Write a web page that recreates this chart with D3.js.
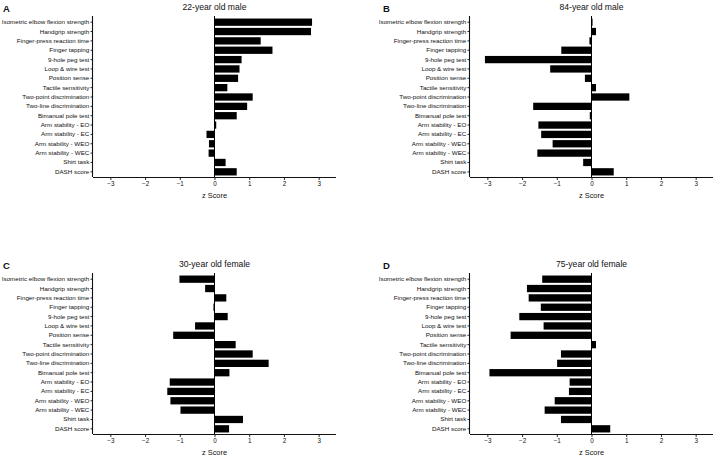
<!DOCTYPE html>
<html>
<head>
<meta charset="utf-8">
<script src="https://cdn.jsdelivr.net/npm/d3@7"></script>
<style>
  body { margin: 0; background: #fff; }
  text { font-family: "Liberation Sans", Arial, sans-serif; fill: #111; }
</style>
</head>
<body>
<script>
var tests = ["Isometric elbow flexion strength", "Handgrip strength", "Finger-press reaction time",
    "Finger tapping", "9-hole peg test", "Loop & wire test", "Position sense", "Tactile sensitivity",
    "Two-point discrimination", "Two-line discrimination", "Bimanual pole test", "Arm stability - EO",
    "Arm stability - EC", "Arm stability - WEO", "Arm stability - WEC", "Shirt task", "DASH score"];

var male22 = [2.81, 2.78, 1.33, 1.67, 0.78, 0.72, 0.68, 0.37, 1.10, 0.94, 0.64, 0.05, -0.23, -0.16, -0.17, 0.32, 0.64];
var male84 = [0.03, 0.13, -0.06, -0.87, -3.07, -1.19, -0.19, 0.13, 1.09, -1.68, -0.05, -1.53, -1.45, -1.12, -1.56, -0.24, 0.64];
var female30 = [-1.01, -0.27, 0.34, -0.03, 0.38, -0.56, -1.19, 0.61, 1.10, 1.56, 0.43, -1.29, -1.36, -1.27, -0.98, 0.82, 0.42];
var female75 = [-1.42, -1.86, -1.81, -1.46, -2.08, -1.38, -2.33, 0.13, -0.88, -0.99, -2.94, -0.63, -0.65, -1.06, -1.35, -0.88, 0.54];

var xTicks = [-3, -2, -1, 0, 1, 2, 3];

var panels = [
    {letter: "A", title: "22-year old male", values: male22, left: 93, top: 16},
    {letter: "B", title: "84-year old male", values: male84, left: 470, top: 16},
    {letter: "C", title: "30-year old female", values: female30, left: 93, top: 273},
    {letter: "D", title: "75-year old female", values: female75, left: 470, top: 273}
];

var pw = 243, ph = 161;

var svg = d3.select("body").append("svg")
    .attr("width", 716)
    .attr("height", 458);

panels.forEach(function(p) {
    var g = svg.append("g")
        .attr("transform", "translate(" + p.left + "," + p.top + ")");

    var x = d3.scaleLinear().domain([-3.5, 3.5]).range([0, pw]);
    var y = d3.scaleBand().domain(tests).range([1.5, ph - 0.5]).paddingInner(0.22).paddingOuter(0.11);

    var data = tests.map(function(t, i) { return {name: t, v: p.values[i]}; });

    g.selectAll("rect.bar")
        .data(data).enter()
        .append("rect")
        .attr("class", "bar")
        .attr("x", function(d) { return x(Math.min(0, d.v)); })
        .attr("width", function(d) { return Math.abs(x(d.v) - x(0)); })
        .attr("y", function(d) { return y(d.name); })
        .attr("height", y.bandwidth())
        .attr("fill", "#000");

    // zero line
    g.append("line")
        .attr("x1", x(0)).attr("x2", x(0))
        .attr("y1", 0).attr("y2", ph)
        .attr("stroke", "#000").attr("stroke-width", 1);

    var xAxis = g.append("g")
        .attr("transform", "translate(0," + ph + ")")
        .call(d3.axisBottom(x).tickValues(xTicks).tickSize(3).tickPadding(2).tickFormat(d3.format("d")));
    var yAxis = g.append("g")
        .call(d3.axisLeft(y).tickSize(2.5).tickPadding(1.2));

    [xAxis, yAxis].forEach(function(a) {
        a.select(".domain").attr("stroke", "#111").attr("stroke-width", 1.1);
        a.selectAll(".tick line").attr("stroke", "#111").attr("stroke-width", 0.9);
        a.selectAll("text").style("font-family", "'Liberation Sans', Arial, sans-serif").attr("fill", "#111");
    });
    // axis domains without end caps
    xAxis.select(".domain").attr("d", "M0,0.5H" + pw);
    yAxis.select(".domain").attr("d", "M-0.5,0V" + ph);
    xAxis.selectAll("text").style("font-size", "6.3px");
    yAxis.selectAll("text").style("font-size", "6.25px");

    g.append("text")
        .attr("x", x(0)).attr("y", ph + 21)
        .attr("text-anchor", "middle")
        .style("font-size", "7.4px")
        .text("z Score");

    g.append("text")
        .attr("x", x(0)).attr("y", -6.5)
        .attr("text-anchor", "middle")
        .style("font-size", "8.6px")
        .text(p.title);

    g.append("text")
        .attr("x", (p.left < 300 ? 3 : 383) - p.left)
        .attr("y", -4.5)
        .style("font-size", "9.5px")
        .style("font-weight", "bold")
        .text(p.letter);
});
</script>
</body>
</html>
